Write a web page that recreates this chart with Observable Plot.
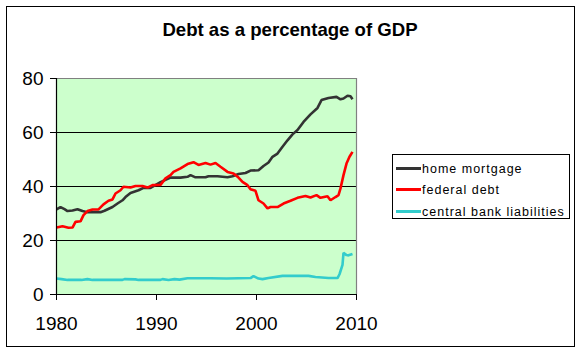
<!DOCTYPE html>
<html>
<head>
<meta charset="utf-8">
<script src="https://cdn.jsdelivr.net/npm/d3@7"></script>
<script src="https://cdn.jsdelivr.net/npm/@observablehq/plot@0.6"></script>
<style>
  html, body { margin: 0; padding: 0; background: #fff; }
  #wrap { position: relative; width: 580px; height: 355px; font-family: "Liberation Sans", Arial, sans-serif; overflow: hidden; }
  #border { position: absolute; left: 6px; top: 6px; width: 569px; height: 341px; border: 1px solid #000; box-sizing: border-box; }
  #title { position: absolute; left: 0; width: 580px; top: 19px; text-align: center; font-weight: bold; font-size: 18.6px; line-height: 22px; color: #000; }
  #chart { position: absolute; left: 0; top: 0; }
  #legend { position: absolute; left: 392px; top: 154px; width: 178px; height: 65px; border: 1px solid #000; box-sizing: border-box; background: #fff; }
  .row { position: absolute; left: 3px; height: 16px; font-size: 12.5px; letter-spacing: 1px; line-height: 16px; white-space: nowrap; }
  .sw { display: inline-block; width: 25px; height: 3px; vertical-align: middle; margin-right: 1px; position: relative; top: -1px; }
</style>
</head>
<body>
<div id="wrap">
  <div id="border"></div>
  <div id="chart"></div>
  <div id="title">Debt as a percentage of GDP</div>
  <div id="legend"></div>
</div>
<script>
// ---- data ----
const seriesNames = ["home mortgage", "federal debt", "central bank liabilities"];
const seriesColors = ["#333333", "#ff0000", "#33cccc"];

const mortgageYears = [1980.0,1980.4,1980.8,1981.1,1981.6,1982.1,1982.6,1983.1,1984.4,1984.8,1985.6,1986.1,1986.6,1986.9,1987.4,1988.2,1988.7,1989.4,1990.4,1991.4,1992.4,1993.1,1993.4,1993.9,1994.9,1995.2,1996.1,1997.1,1997.6,1998.2,1998.9,1999.4,2000.2,2000.7,2001.2,2001.6,2002.1,2002.6,2003.1,2003.6,2004.1,2004.7,2005.4,2006.1,2006.5,2007.2,2008.0,2008.4,2008.7,2009.1,2009.4,2009.6];
const mortgageValues = [31.5,32.4,31.6,30.9,31.1,31.6,30.9,30.5,30.5,31.0,32.4,33.7,34.9,36.1,37.6,38.6,39.5,39.5,41.6,43.3,43.3,43.6,44.2,43.4,43.4,43.8,43.8,43.4,43.8,44.6,45.0,45.9,46.0,47.6,48.9,51.0,52.2,54.7,57.1,59.3,60.9,63.9,66.7,69.1,72.0,72.8,73.2,72.3,72.6,73.6,73.4,72.3];

const federalYears = [1980.0,1980.6,1981.2,1981.6,1981.9,1982.4,1982.7,1983.1,1983.6,1984.2,1984.7,1985.2,1985.6,1985.9,1986.4,1986.7,1987.4,1987.9,1988.6,1989.1,1989.6,1990.4,1990.9,1991.4,1991.7,1992.4,1993.1,1993.7,1994.2,1994.9,1995.4,1995.9,1996.4,1997.1,1997.7,1998.2,1998.6,1999.1,1999.4,1999.9,2000.2,2000.7,2001.1,2001.4,2002.1,2002.7,2003.4,2004.1,2004.9,2005.4,2006.0,2006.4,2007.1,2007.4,2007.9,2008.2,2008.4,2008.7,2009.0,2009.3,2009.6];
const federalValues = [24.8,25.3,24.7,24.8,26.9,27.1,29.4,30.9,31.5,31.5,33.4,34.7,35.2,37.4,38.6,39.9,39.6,40.2,40.2,39.6,40.5,40.6,43.0,44.2,45.4,46.7,48.3,49.0,48.0,48.7,48.1,48.7,47.3,45.4,44.8,43.3,41.7,40.5,39.0,38.4,34.9,33.7,31.9,32.4,32.4,33.7,34.7,35.8,36.5,35.9,36.8,35.8,36.4,34.9,36.1,36.8,39.3,44.2,48.5,51.0,52.8];

const centralYears = [1980.0,1980.5,1981.1,1982.5,1983.1,1983.6,1986.6,1986.8,1987.9,1988.2,1990.4,1990.6,1991.2,1991.8,1992.3,1993.1,1995.4,1997.0,1999.4,1999.7,2000.2,2000.6,2001.2,2002.6,2005.2,2005.9,2007.2,2008.1,2008.3,2008.6,2008.7,2009.0,2009.2,2009.6];
const centralValues = [5.9,5.7,5.4,5.4,5.7,5.4,5.4,5.7,5.6,5.4,5.4,5.7,5.4,5.7,5.5,6.0,6.0,5.9,6.1,6.8,5.9,5.7,6.1,6.9,6.9,6.5,6.1,6.1,7.5,11.0,15.4,14.6,14.5,15.0];

const xTicks = [1980, 1990, 2000, 2010];
const yTicks = [0, 20, 40, 60, 80];
const gridValues = [20, 40, 60];

// ---- build table ----
function rows(name, ys, vs) { return ys.map((y, i) => ({series: name, year: y, value: vs[i]})); }
const data = [
  ...rows(seriesNames[0], mortgageYears, mortgageValues),
  ...rows(seriesNames[1], federalYears, federalValues),
  ...rows(seriesNames[2], centralYears, centralValues)
];

const chart = Plot.plot({
  width: 580,
  height: 355,
  marginLeft: 56,
  marginRight: 224,
  marginTop: 78,
  marginBottom: 61,
  style: {background: "transparent", fontFamily: "'Liberation Sans', Arial, sans-serif", fontSize: "19px", color: "#000"},
  x: {domain: [1980, 2010], ticks: xTicks, tickFormat: d => String(d), tickSize: 6, tickPadding: 16, label: null},
  y: {domain: [0, 80], ticks: yTicks, tickSize: 6, tickPadding: 7, label: null},
  color: {domain: seriesNames, range: seriesColors},
  marks: [
    Plot.frame({fill: "#ccffcc", stroke: null}),
    Plot.ruleY(gridValues, {stroke: "#000", strokeWidth: 1}),
    Plot.ruleY([80], {stroke: "#808080", strokeWidth: 1.2}),
    Plot.ruleX([2010], {stroke: "#808080", strokeWidth: 1.2}),
    Plot.line(data, {x: "year", y: "value", z: "series", stroke: "series", strokeWidth: 2.6, strokeLinejoin: "miter", strokeLinecap: "butt"}),
    Plot.ruleY([0], {stroke: "#000", strokeWidth: 1.2}),
    Plot.ruleX([1980], {stroke: "#000", strokeWidth: 1.2}),
    Plot.axisX({ticks: xTicks, tickFormat: d => String(d), tickSize: 6, tickPadding: 16, stroke: "#000", fill: "#000", strokeOpacity: 1}),
    Plot.axisY({ticks: yTicks, tickSize: 6, tickPadding: 7, stroke: "#000", fill: "#000", strokeOpacity: 1})
  ]
});
document.getElementById("chart").appendChild(chart);

// ---- legend ----
const legend = document.getElementById("legend");
const rowTops = [6, 27, 49];
seriesNames.forEach((name, i) => {
  const r = document.createElement("div");
  r.className = "row";
  r.style.top = rowTops[i] + "px";
  const sw = document.createElement("span");
  sw.className = "sw";
  sw.style.background = seriesColors[i];
  r.appendChild(sw);
  r.appendChild(document.createTextNode(name));
  legend.appendChild(r);
});
</script>
</body>
</html>
